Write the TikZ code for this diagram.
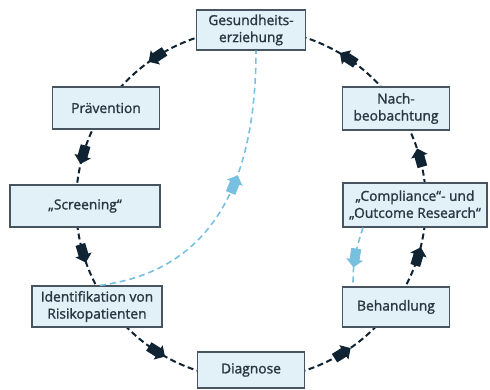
\documentclass[tikz,border=0pt]{standalone}
\usepackage{fontspec}
\setmainfont{Open Sans}
\newfontfamily\kastenschrift{Open Sans}[FakeBold=1.4]
\usepackage{xcolor}
\usetikzlibrary{decorations.markings}

\definecolor{kastenfill}{RGB}{226,241,248}
\definecolor{kastenrand}{RGB}{70,85,95}
\definecolor{schrift}{RGB}{40,55,65}
\definecolor{pfeildunkel}{RGB}{15,35,50}
\definecolor{hellblau}{RGB}{120,192,224}

% Blockpfeil, zeigt in Laufrichtung
\newcommand{\blockpfeil}[1]{\fill[#1] (-11,-5) -- (0,-5) -- (0,-8.5) -- (8,0) -- (0,8.5) -- (0,5) -- (-11,5) -- cycle;}

\tikzset{
  kasten/.style={draw=kastenrand, fill=kastenfill, line width=1.2pt, text=schrift,
    align=center, inner sep=0pt, font=\kastenschrift\fontsize{13.8}{17}\selectfont},
  kreislinie/.style={draw=pfeildunkel, line width=2pt, dash pattern=on 6pt off 3.5pt},
  rueckweg/.style={draw=hellblau, line width=1.6pt, dash pattern=on 6pt off 4pt},
}

\begin{document}
\begin{tikzpicture}[x=1pt, y=1pt]

\useasboundingbox (0,0) rectangle (490,390);

% Kreis mit Pfeilen
\coordinate (mitte) at (251,186);
\draw[kreislinie, postaction={decorate, decoration={markings,
    mark=at position 0.044 with {\blockpfeil{pfeildunkel}},
    mark=at position 0.158 with {\blockpfeil{pfeildunkel}},
    mark=at position 0.342 with {\blockpfeil{pfeildunkel}},
    mark=at position 0.456 with {\blockpfeil{pfeildunkel}},
    mark=at position 0.547 with {\blockpfeil{pfeildunkel}},
    mark=at position 0.661 with {\blockpfeil{pfeildunkel}},
    mark=at position 0.839 with {\blockpfeil{pfeildunkel}},
    mark=at position 0.953 with {\blockpfeil{pfeildunkel}}}}]
  (mitte) circle [radius=175pt];

% Kaesten
\node[kasten, minimum width=109pt, minimum height=40pt] (gesund) at (251,360) {Gesundheits-\\erziehung};
\node[kasten, minimum width=107pt, minimum height=42pt] (praev) at (106,282) {Prävention};
\node[kasten, minimum width=150pt, minimum height=42pt] (screen) at (85,184) {„Screening“};
\node[kasten, minimum width=130pt, minimum height=41pt] (ident) at (97,83.5) {Identifikation von\\Risikopatienten};
\node[kasten, minimum width=107pt, minimum height=36pt] (diag) at (251,20) {Diagnose};
\node[kasten, minimum width=107pt, minimum height=40pt] (behand) at (396,83) {Behandlung};
\node[kasten, minimum width=144pt, minimum height=44pt] (compl) at (415,185) {„Compliance“- und\\„Outcome Research“};
\node[kasten, minimum width=107pt, minimum height=43pt] (nach) at (396,281.5) {Nach-\\beobachtung};

% Rueckwege (hellblau)
\draw[rueckweg, postaction={decorate, decoration={markings,
    mark=at position 0.57 with {\blockpfeil{hellblau}}}}]
  ([xshift=3pt]ident.north) .. controls +(120,16) and +(0,-120) .. ([xshift=5pt]gesund.south);
\draw[rueckweg, postaction={decorate, decoration={markings,
    mark=at position 0.55 with {\blockpfeil{hellblau}}}}]
  ([xshift=-52pt]compl.south) .. controls +(-8,-25) and +(0,25) .. ([xshift=-43pt]behand.north);

\end{tikzpicture}
\end{document}
